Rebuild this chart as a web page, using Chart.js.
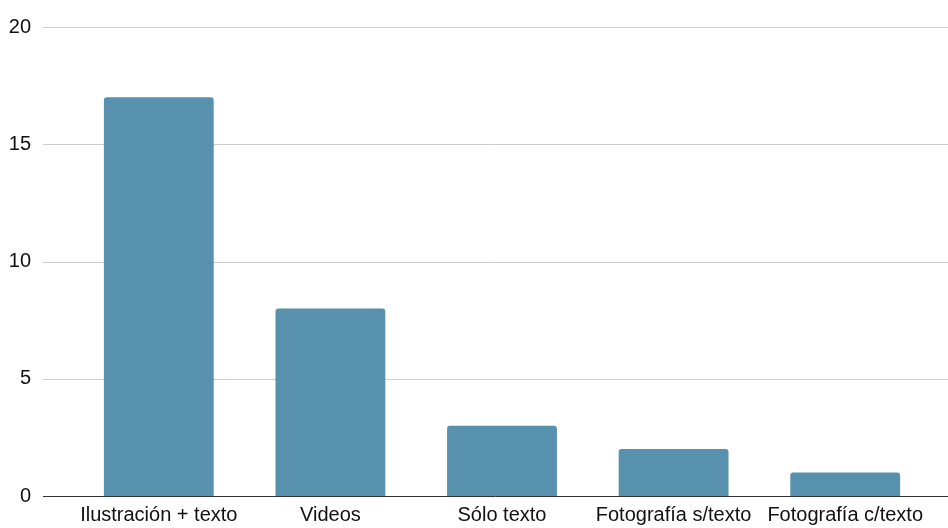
<!DOCTYPE html>
<html lang="es">
<head>
    <meta charset="UTF-8">
    <script src="https://cdn.jsdelivr.net/npm/chart.js"></script>
    <title>Formatos</title>
    <style>
        html, body { margin: 0; padding: 0; background: #fff; overflow: hidden; }
        canvas { display: block; }
    </style>
</head>
<body>
    <canvas id="myChart" width="948" height="528"></canvas>

<script>
    // datos
    var categorias = ['Ilustración + texto', 'Videos', 'Sólo texto', 'Fotografía s/texto', 'Fotografía c/texto']
    var valores = [17, 8, 3, 2, 1]
    var ticksY = [0, 5, 10, 15, 20]

    // las lineas de la grilla van de borde a borde
    const grillaLarga = {
        id: 'grillaLarga',
        beforeDatasetsDraw(chart) {
            const c = chart.ctx
            const y = chart.scales.y
            c.save()
            c.lineWidth = 1
            c.strokeStyle = '#cccccc'
            ticksY.forEach(v => {
                if (v === 0) return
                const py = Math.round(y.getPixelForValue(v)) + 0.5
                c.beginPath()
                c.moveTo(43, py)
                c.lineTo(948, py)
                c.stroke()
            })
            const p0 = Math.round(y.getPixelForValue(0)) + 0.5
            c.strokeStyle = '#333333'
            c.beginPath()
            c.moveTo(43, p0)
            c.lineTo(948, p0)
            c.stroke()
            c.restore()
        }
    }

    const fuente = { family: "'Liberation Sans', Arial, sans-serif", size: 20 }

    const ctx = document.getElementById('myChart')

    new Chart(ctx, {
        type: 'bar',
        data: {
            labels: categorias,
            datasets: [{
                data: valores,
                backgroundColor: '#5891ad',
                borderRadius: { topLeft: 3, topRight: 3 },
                borderSkipped: 'bottom',
                categoryPercentage: 1,
                barPercentage: 0.64
            }]
        },
        options: {
            responsive: false,
            animation: false,
            layout: { padding: { top: 27, right: 17, left: 0, bottom: 0 } },
            plugins: { legend: { display: false }, tooltip: { enabled: false } },
            scales: {
                x: {
                    afterFit: s => { s.height = 32 },
                    grid: { display: false, drawTicks: false },
                    border: { display: false },
                    ticks: { color: '#111', font: fuente, padding: 7, maxRotation: 0, autoSkip: false }
                },
                y: {
                    min: 0,
                    max: 20,
                    afterBuildTicks: s => { s.ticks = ticksY.map(v => ({ value: v })) },
                    afterFit: s => {
                        s.width = 73
                        s.paddingTop = 0
                        s.paddingBottom = 0
                    },
                    grid: { display: false, drawTicks: false },
                    border: { display: false },
                    ticks: { color: '#111', font: fuente, padding: 42 }
                }
            }
        },
        plugins: [grillaLarga]
    });
</script>
</body>
</html>
